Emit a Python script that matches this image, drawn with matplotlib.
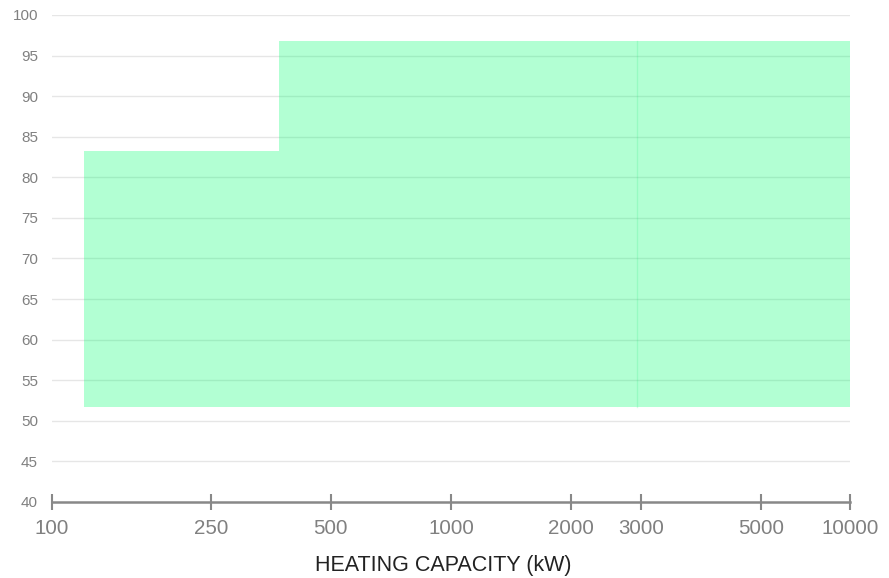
import matplotlib
matplotlib.use("Agg")
import matplotlib.pyplot as plt

plt.rcParams['font.family'] = ['Liberation Sans', 'DejaVu Sans']

# operating envelope (heating capacity kW vs value)
region1_x = [120, 370, 370, 2930]
region1_top = [83.3, 83.3, 96.8, 96.8]
region2_x = [2930, 10000]
region2_top = [96.8, 96.8]
bottom = 51.7

# x ticks as shown on the axis
tick_values = [100, 250, 500, 1000, 2000, 3000, 6000, 10000]
tick_labels = ['100', '250', '500', '1000', '2000', '3000', '5000', '10000']
y_ticks = list(range(40, 101, 5))

fig = plt.figure(figsize=(8.89, 5.78), dpi=100)
ax = fig.add_axes([52 / 889, 76 / 578, 798 / 889, 487 / 578])

fill_color = (0.0, 1.0, 0.43, 0.3)
ax.fill_between(region1_x, bottom, region1_top, color=fill_color, lw=0, zorder=3)
ax.fill_between(region2_x, bottom, region2_top, color=fill_color, lw=0, zorder=3)
ax.plot([region2_x[0], region2_x[0]], [bottom, region2_top[0]],
        color=(0.0, 0.9, 0.4, 0.15), lw=1, zorder=3)

ax.set_xscale('log')
ax.set_xlim(100, 10000)
ax.set_ylim(40, 100)

ax.set_xticks(tick_values)
ax.set_xticklabels(tick_labels)
ax.xaxis.set_minor_locator(matplotlib.ticker.NullLocator())
ax.set_yticks(y_ticks)

for y in y_ticks[1:]:
    ax.axhline(y, color='#e6e6e6', lw=1, zorder=1)

for side in ['top', 'right', 'left']:
    ax.spines[side].set_visible(False)
ax.spines['bottom'].set_color('#888888')
ax.spines['bottom'].set_linewidth(1.8)
ax.spines['bottom'].set_zorder(5)

ax.tick_params(axis='x', direction='inout', length=12, width=1.5, color='#888888',
               labelsize=14.8, labelcolor='#808080', pad=6)
ax.tick_params(axis='y', length=0, labelsize=11, labelcolor='#808080', pad=10)

ax.set_xlabel('HEATING CAPACITY (kW)', fontsize=15.5, color='#222222')
ax.xaxis.set_label_coords(0.49, -0.131)
ax.xaxis.label.set_va('center')

fig.savefig('out.png', dpi=100)
